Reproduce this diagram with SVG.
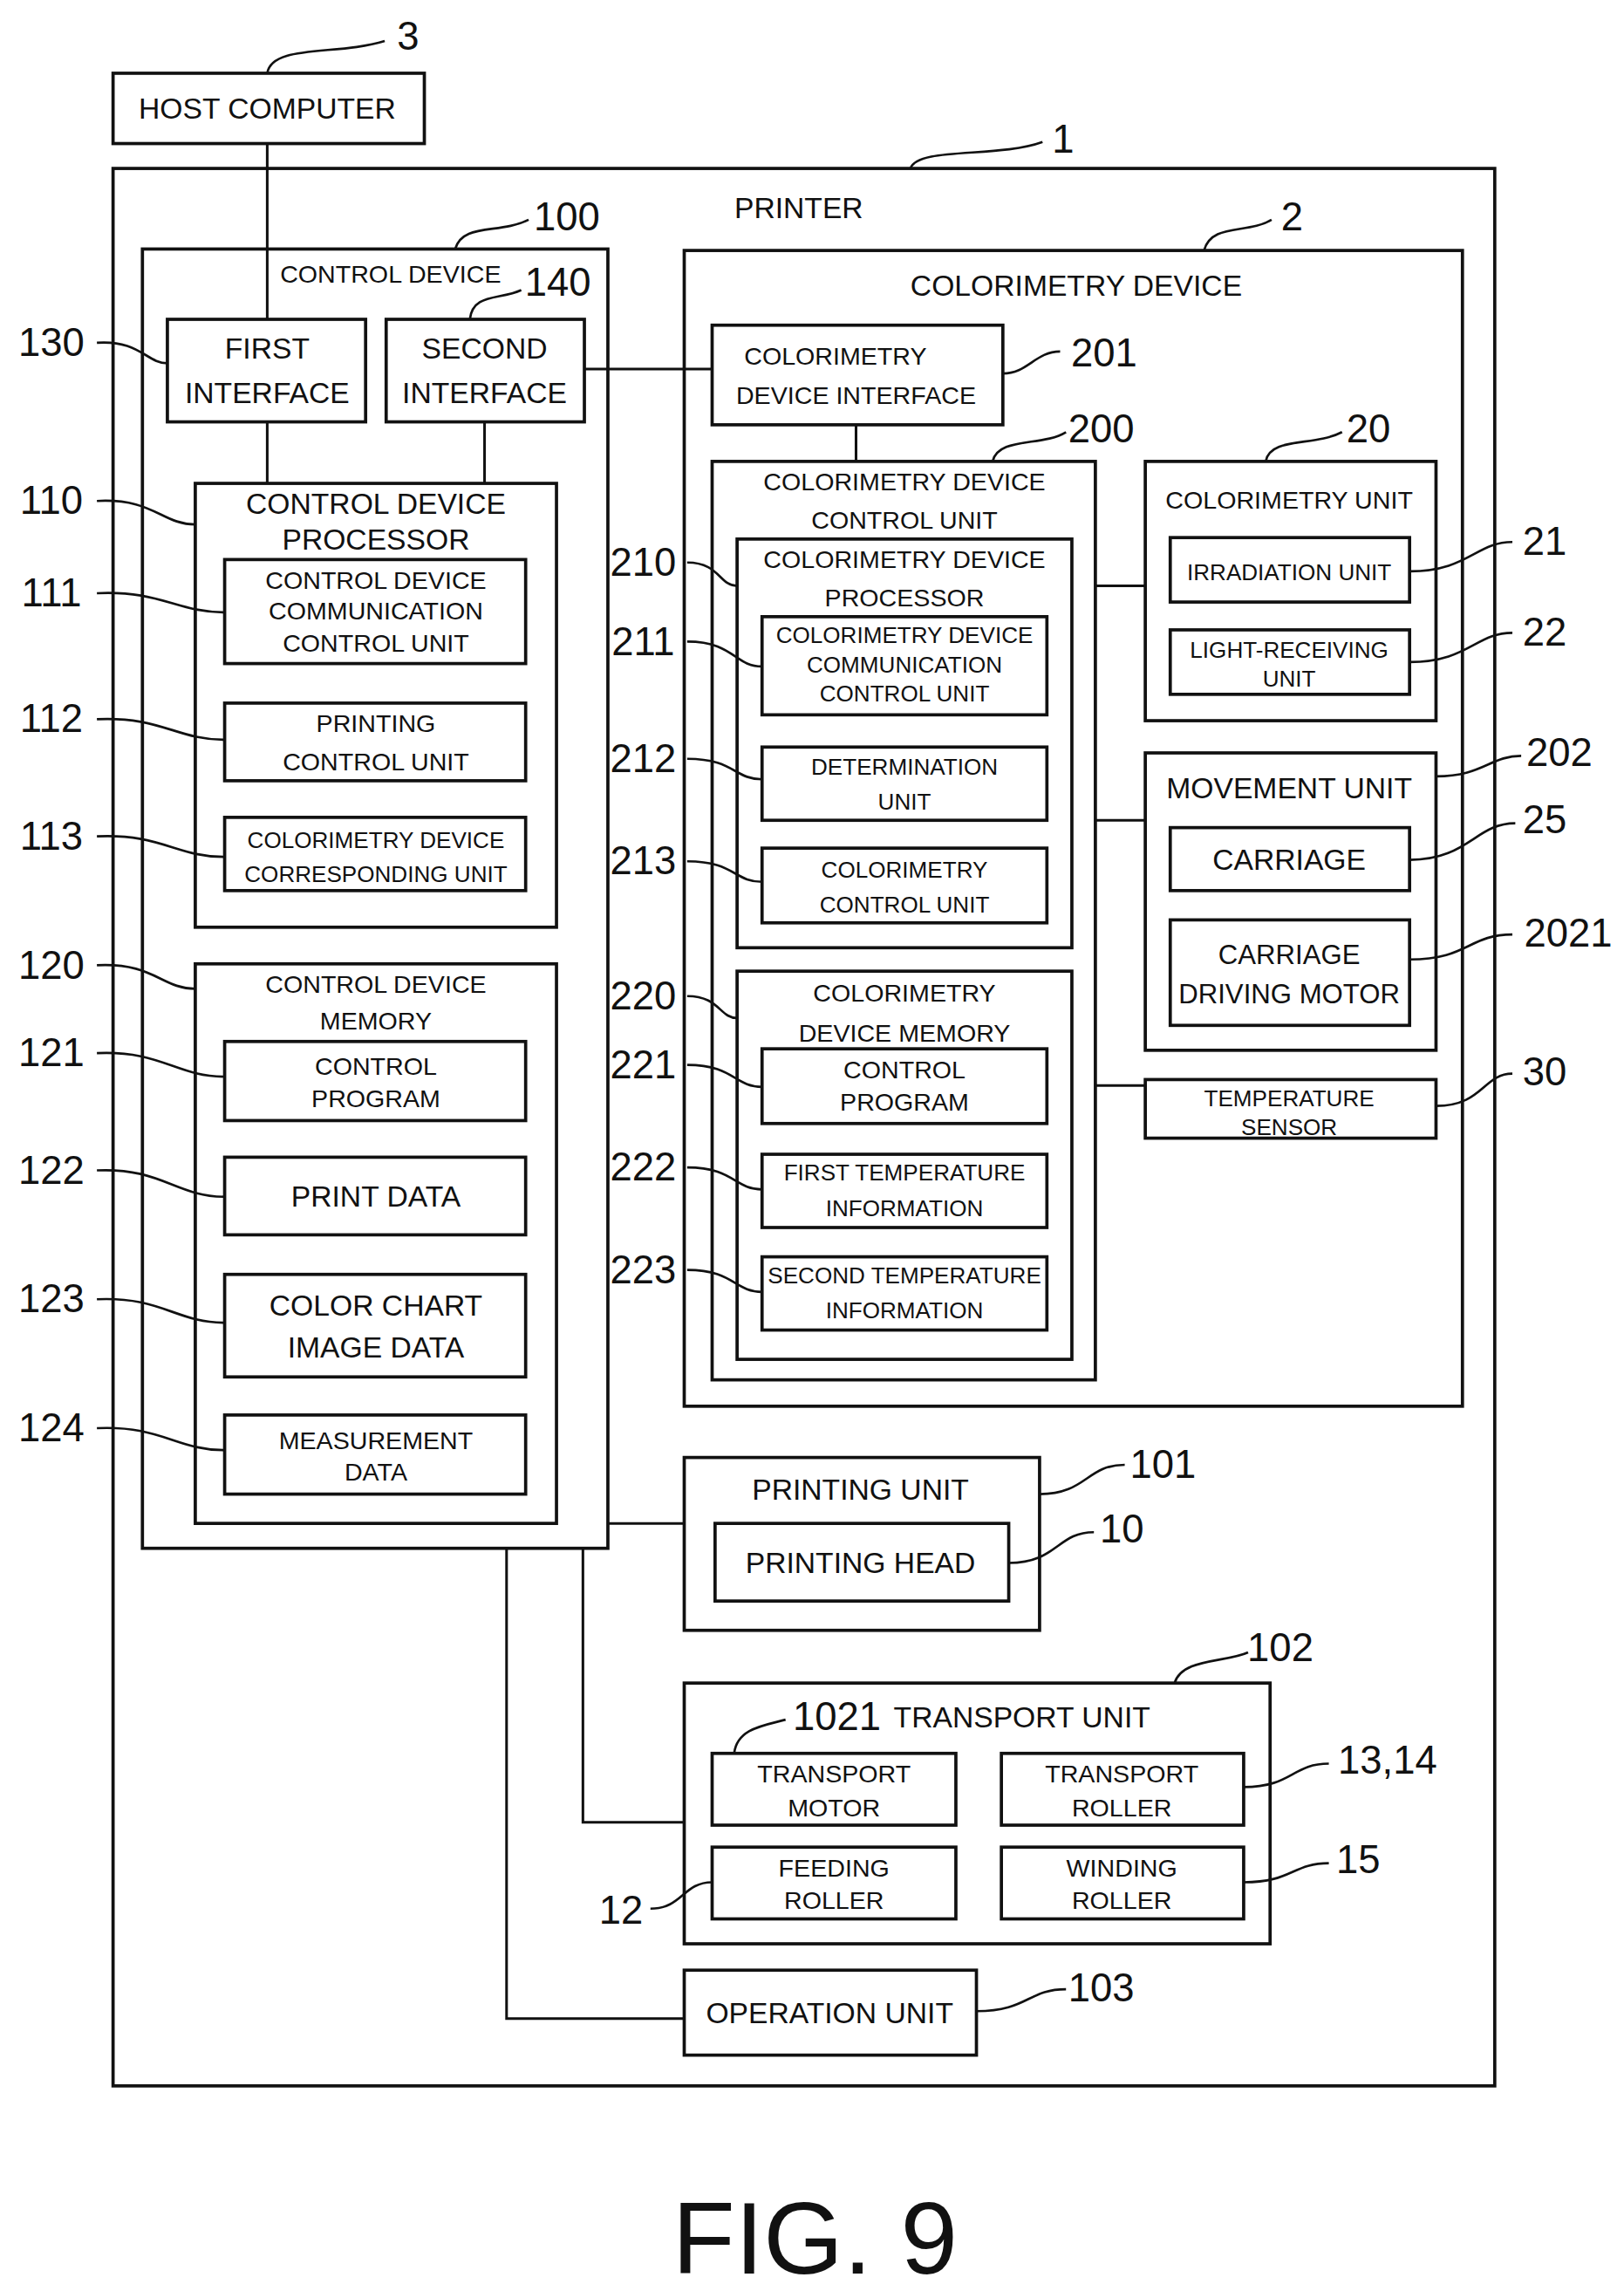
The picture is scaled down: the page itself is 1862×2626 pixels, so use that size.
<svg xmlns="http://www.w3.org/2000/svg" width="1862" height="2626" viewBox="0 0 1862 2626">
<style>
rect{fill:none;stroke:#111;stroke-width:2.2}
.c path,.c line{fill:none;stroke:#111;stroke-width:1.8}
.ld{fill:none;stroke:#111;stroke-width:1.6}
text{font-family:"Liberation Sans",Arial,sans-serif;fill:#111;text-anchor:middle;font-size:20px}
.s{font-size:17px}
.xs{font-size:15.5px}
.m{font-size:18.5px}
.n{font-size:27px;text-anchor:middle}
.f{font-size:70px}
</style>
<rect x="0" y="0" width="1862" height="2626" style="fill:#fff;stroke:none"/>
<g transform="scale(1.6835,1.679)">
<g class="c" id="connectors">
<line x1="182" y1="98" x2="182" y2="218"/>
<line x1="182" y1="288" x2="182" y2="330"/>
<line x1="330" y1="288" x2="330" y2="330"/>
<line x1="398" y1="252" x2="485" y2="252"/>
<line x1="583" y1="290" x2="583" y2="315"/>
<line x1="746" y1="400" x2="780" y2="400"/>
<line x1="746" y1="560" x2="780" y2="560"/>
<line x1="746" y1="741" x2="780" y2="741"/>
<line x1="414" y1="1040" x2="466" y2="1040"/>
<path d="M397 1057 V1244 H466"/>
<path d="M345 1057 V1378 H466"/>
</g>
<g id="leaders">
<path class="ld" d="M182 50 C185 30,230 38,262 28"/>
<path class="ld" d="M620 115 C625 100,680 108,710 97"/>
<path class="ld" d="M310 170 C315 152,340 160,360 150"/>
<path class="ld" d="M320 218 C322 200,340 205,355 198"/>
<path class="ld" d="M66 234 C95 232,100 248,114 248"/>
<path class="ld" d="M66 342 C105 340,110 358,133 358"/>
<path class="ld" d="M66 405 C110 403,120 418,153 418"/>
<path class="ld" d="M66 491 C110 489,120 505,153 505"/>
<path class="ld" d="M66 571 C110 569,120 585,153 585"/>
<path class="ld" d="M66 659 C105 657,110 675,133 675"/>
<path class="ld" d="M66 719 C110 717,120 735,153 735"/>
<path class="ld" d="M66 799 C110 797,120 817,153 817"/>
<path class="ld" d="M66 887 C110 885,120 903,153 903"/>
<path class="ld" d="M66 975 C110 973,120 990,153 990"/>
<path class="ld" d="M820 171 C825 152,850 160,866 150"/>
<path class="ld" d="M683 255 C700 255,705 240,722 240"/>
<path class="ld" d="M676 315 C680 298,710 305,726 295"/>
<path class="ld" d="M468 384 C490 384,490 400,502 400"/>
<path class="ld" d="M468 438 C500 438,500 455,519 455"/>
<path class="ld" d="M468 518 C500 518,500 532,519 532"/>
<path class="ld" d="M468 588 C500 588,500 602,519 602"/>
<path class="ld" d="M468 680 C490 680,490 695,502 695"/>
<path class="ld" d="M468 727 C500 727,500 742,519 742"/>
<path class="ld" d="M468 797 C500 797,500 812,519 812"/>
<path class="ld" d="M468 867 C500 867,500 882,519 882"/>
<path class="ld" d="M862 315 C865 298,895 305,914 295"/>
<path class="ld" d="M960 390 C1000 390,1005 370,1030 370"/>
<path class="ld" d="M960 452 C1000 452,1005 432,1030 432"/>
<path class="ld" d="M978 530 C1010 530,1015 516,1036 516"/>
<path class="ld" d="M960 587 C1000 587,1005 562,1032 562"/>
<path class="ld" d="M960 655 C1000 655,1000 638,1030 638"/>
<path class="ld" d="M978 755 C1010 755,1010 733,1030 733"/>
<path class="ld" d="M708 1020 C740 1020,740 1000,766 1000"/>
<path class="ld" d="M687 1067 C720 1067,720 1046,745 1046"/>
<path class="ld" d="M800 1149 C805 1132,835 1135,850 1128"/>
<path class="ld" d="M500 1197 C502 1180,520 1178,535 1174"/>
<path class="ld" d="M847 1220 C880 1220,880 1204,905 1204"/>
<path class="ld" d="M443 1303 C465 1303,465 1285,485 1285"/>
<path class="ld" d="M847 1285 C880 1285,880 1272,905 1272"/>
<path class="ld" d="M665 1373 C700 1373,700 1358,726 1358"/>
</g>
<g id="host"><rect x="77" y="50" width="212" height="48"/><text x="182" y="81">HOST COMPUTER</text><text class="n" x="278" y="34">3</text></g>
<g id="printer"><rect x="77" y="115" width="941" height="1309"/><text x="544" y="149">PRINTER</text><text class="n" x="724" y="104">1</text></g>
<g id="control-device"><rect x="97" y="170" width="317" height="887"/><text class="s" x="266" y="193">CONTROL DEVICE</text><text class="n" x="386" y="157">100</text></g>
<g id="if1"><rect x="114" y="218" width="135" height="70"/><text x="182" y="245">FIRST</text><text x="182" y="275">INTERFACE</text><text class="n" x="35" y="243">130</text></g>
<g id="if2"><rect x="263" y="218" width="135" height="70"/><text x="330" y="245">SECOND</text><text x="330" y="275">INTERFACE</text><text class="n" x="380" y="202">140</text></g>
<g id="p110"><rect x="133" y="330" width="246" height="303"/><text x="256" y="351">CONTROL DEVICE</text><text x="256" y="375">PROCESSOR</text><text class="n" x="35" y="351">110</text></g>
<g id="p111"><rect x="153" y="382" width="205" height="71"/><text class="s" x="256" y="402">CONTROL DEVICE</text><text class="s" x="256" y="423">COMMUNICATION</text><text class="s" x="256" y="445">CONTROL UNIT</text><text class="n" x="35" y="414">111</text></g>
<g id="p112"><rect x="153" y="480" width="205" height="53"/><text class="s" x="256" y="500">PRINTING</text><text class="s" x="256" y="526">CONTROL UNIT</text><text class="n" x="35" y="500">112</text></g>
<g id="p113"><rect x="153" y="558" width="205" height="50"/><text class="xs" x="256" y="579">COLORIMETRY DEVICE</text><text class="xs" x="256" y="602">CORRESPONDING UNIT</text><text class="n" x="35" y="580">113</text></g>
<g id="m120"><rect x="133" y="658" width="246" height="382"/><text class="s" x="256" y="678">CONTROL DEVICE</text><text class="s" x="256" y="703">MEMORY</text><text class="n" x="35" y="668">120</text></g>
<g id="m121"><rect x="153" y="711" width="205" height="54"/><text class="s" x="256" y="734">CONTROL</text><text class="s" x="256" y="756">PROGRAM</text><text class="n" x="35" y="728">121</text></g>
<g id="m122"><rect x="153" y="790" width="205" height="53"/><text x="256" y="824">PRINT DATA</text><text class="n" x="35" y="808">122</text></g>
<g id="m123"><rect x="153" y="870" width="205" height="70"/><text x="256" y="898">COLOR CHART</text><text x="256" y="927">IMAGE DATA</text><text class="n" x="35" y="896">123</text></g>
<g id="m124"><rect x="153" y="966" width="205" height="54"/><text class="s" x="256" y="989">MEASUREMENT</text><text class="s" x="256" y="1011">DATA</text><text class="n" x="35" y="984">124</text></g>
<g id="cd2"><rect x="466" y="171" width="530" height="789"/><text x="733" y="202">COLORIMETRY DEVICE</text><text class="n" x="880" y="157">2</text></g>
<g id="c201"><rect x="485" y="222" width="198" height="68"/><text class="s" x="569" y="249">COLORIMETRY</text><text class="s" x="583" y="276">DEVICE INTERFACE</text><text class="n" x="752" y="250">201</text></g>
<g id="c200"><rect x="485" y="315" width="261" height="627"/><text class="s" x="616" y="335">COLORIMETRY DEVICE</text><text class="s" x="616" y="361">CONTROL UNIT</text><text class="n" x="750" y="302">200</text></g>
<g id="c210"><rect x="502" y="368" width="228" height="279"/><text class="s" x="616" y="388">COLORIMETRY DEVICE</text><text class="s" x="616" y="414">PROCESSOR</text><text class="n" x="438" y="393">210</text></g>
<g id="c211"><rect x="519" y="421" width="194" height="67"/><text class="xs" x="616" y="439">COLORIMETRY DEVICE</text><text class="xs" x="616" y="459">COMMUNICATION</text><text class="xs" x="616" y="479">CONTROL UNIT</text><text class="n" x="438" y="447">211</text></g>
<g id="c212"><rect x="519" y="510" width="194" height="50"/><text class="xs" x="616" y="529">DETERMINATION</text><text class="xs" x="616" y="553">UNIT</text><text class="n" x="438" y="527">212</text></g>
<g id="c213"><rect x="519" y="579" width="194" height="51"/><text class="xs" x="616" y="599">COLORIMETRY</text><text class="xs" x="616" y="623">CONTROL UNIT</text><text class="n" x="438" y="597">213</text></g>
<g id="c220"><rect x="502" y="663" width="228" height="265"/><text class="s" x="616" y="684">COLORIMETRY</text><text class="s" x="616" y="711">DEVICE MEMORY</text><text class="n" x="438" y="689">220</text></g>
<g id="c221"><rect x="519" y="716" width="194" height="51"/><text class="s" x="616" y="736">CONTROL</text><text class="s" x="616" y="758">PROGRAM</text><text class="n" x="438" y="736">221</text></g>
<g id="c222"><rect x="519" y="788" width="194" height="50"/><text class="xs" x="616" y="806">FIRST TEMPERATURE</text><text class="xs" x="616" y="830">INFORMATION</text><text class="n" x="438" y="806">222</text></g>
<g id="c223"><rect x="519" y="858" width="194" height="50"/><text class="xs" x="616" y="876">SECOND TEMPERATURE</text><text class="xs" x="616" y="900">INFORMATION</text><text class="n" x="438" y="876">223</text></g>
<g id="u20"><rect x="780" y="315" width="198" height="177"/><text class="s" x="878" y="347">COLORIMETRY UNIT</text><text class="n" x="932" y="302">20</text></g>
<g id="u21"><rect x="797" y="367" width="163" height="44"/><text class="xs" x="878" y="396">IRRADIATION UNIT</text><text class="n" x="1052" y="379">21</text></g>
<g id="u22"><rect x="797" y="430" width="163" height="44"/><text class="xs" x="878" y="449">LIGHT-RECEIVING</text><text class="xs" x="878" y="469">UNIT</text><text class="n" x="1052" y="441">22</text></g>
<g id="u202"><rect x="780" y="514" width="198" height="203"/><text x="878" y="545">MOVEMENT UNIT</text><text class="n" x="1062" y="523">202</text></g>
<g id="u25"><rect x="797" y="565" width="163" height="43"/><text x="878" y="594">CARRIAGE</text><text class="n" x="1052" y="569">25</text></g>
<g id="u2021"><rect x="797" y="628" width="163" height="72"/><text class="m" x="878" y="658">CARRIAGE</text><text class="m" x="878" y="685">DRIVING MOTOR</text><text class="n" x="1068" y="646">2021</text></g>
<g id="u30"><rect x="780" y="737" width="198" height="40"/><text class="xs" x="878" y="755">TEMPERATURE</text><text class="xs" x="878" y="775">SENSOR</text><text class="n" x="1052" y="741">30</text></g>
<g id="u101"><rect x="466" y="995" width="242" height="118"/><text x="586" y="1024">PRINTING UNIT</text><text class="n" x="792" y="1009">101</text></g>
<g id="u10"><rect x="487" y="1040" width="200" height="53"/><text x="586" y="1074">PRINTING HEAD</text><text class="n" x="764" y="1053">10</text></g>
<g id="u102"><rect x="466" y="1149" width="399" height="178"/><text x="696" y="1179">TRANSPORT UNIT</text><text class="n" x="872" y="1134">102</text><text class="n" x="570" y="1181">1021</text></g>
<g id="u1021"><rect x="485" y="1197" width="166" height="49"/><text class="s" x="568" y="1217">TRANSPORT</text><text class="s" x="568" y="1240">MOTOR</text></g>
<g id="u1314"><rect x="682" y="1197" width="165" height="49"/><text class="s" x="764" y="1217">TRANSPORT</text><text class="s" x="764" y="1240">ROLLER</text><text class="n" x="945" y="1211">13,14</text></g>
<g id="u12"><rect x="485" y="1261" width="166" height="49"/><text class="s" x="568" y="1281">FEEDING</text><text class="s" x="568" y="1303">ROLLER</text><text class="n" x="423" y="1313">12</text></g>
<g id="u15"><rect x="682" y="1261" width="165" height="49"/><text class="s" x="764" y="1281">WINDING</text><text class="s" x="764" y="1303">ROLLER</text><text class="n" x="925" y="1279">15</text></g>
<g id="u103"><rect x="466" y="1345" width="199" height="58"/><text x="565" y="1381">OPERATION UNIT</text><text class="n" x="750" y="1366">103</text></g>
<text class="f" x="555" y="1552">FIG. 9</text>
</g>
</svg>
